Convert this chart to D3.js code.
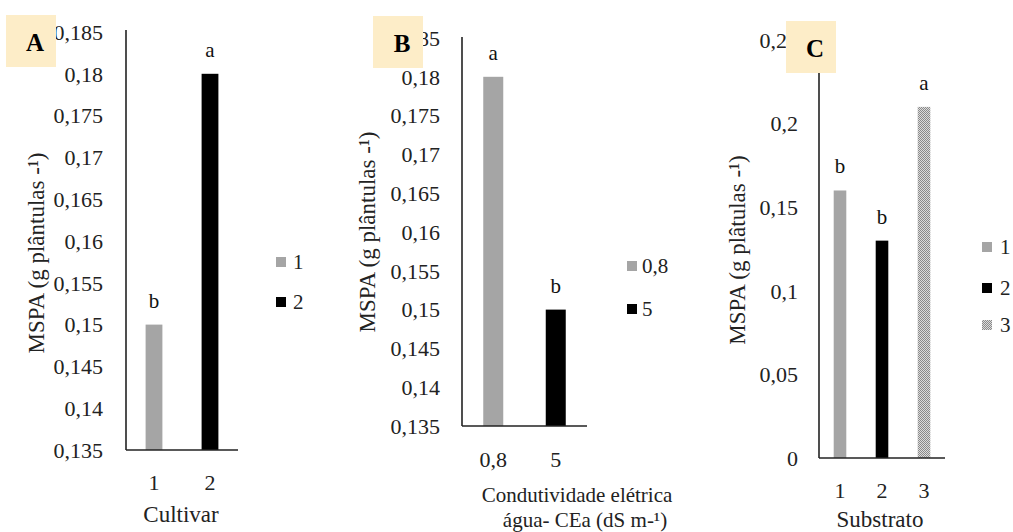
<!DOCTYPE html>
<html>
<head>
<meta charset="utf-8">
<script src="https://cdn.jsdelivr.net/npm/d3@7"></script>
<style>
  body { margin: 0; background: #fff; }
  svg { display: block; font-family: "Liberation Serif", "Times New Roman", serif; }
</style>
</head>
<body>
<svg id="chart" width="1013" height="532"></svg>
<script>
// --- data ---
const cultivarCats = ["1", "2"];
const cultivarVals = [0.15, 0.18];
const cultivarLetters = ["b", "a"];

const ceaCats = ["0,8", "5"];
const ceaVals = [0.18, 0.15];
const ceaLetters = ["a", "b"];

const substratoCats = ["1", "2", "3"];
const substratoVals = [0.16, 0.13, 0.21];
const substratoLetters = ["b", "b", "a"];

const ticksAB = [0.135, 0.14, 0.145, 0.15, 0.155, 0.16, 0.165, 0.17, 0.175, 0.18, 0.185];
const ticksC = [0, 0.05, 0.1, 0.15, 0.2, 0.25];

const barFills = ["#a5a5a5", "#000000", "url(#dots)"];

const ptBR = d3.formatLocale({ decimal: ",", thousands: ".", grouping: [3], currency: ["", ""] });
const fmt = ptBR.format("");

const svg = d3.select("#chart");

// checker pattern for the third substrate
const pat = svg.append("defs").append("pattern")
    .attr("id", "dots")
    .attr("width", 2).attr("height", 2)
    .attr("patternUnits", "userSpaceOnUse");
pat.append("rect").attr("width", 2).attr("height", 2).attr("fill", "#dcdcdc");
pat.append("rect").attr("width", 1).attr("height", 1).attr("fill", "#8a8a8a");
pat.append("rect").attr("x", 1).attr("y", 1).attr("width", 1).attr("height", 1).attr("fill", "#8a8a8a");

function drawPanel(p) {
    const x = d3.scaleBand()
        .domain(p.cats)
        .range([p.x0, p.x1])
        .paddingInner(p.pad)
        .paddingOuter(p.pad / 2);
    const y = d3.scaleLinear().domain(p.domain).range([p.y0, p.y1]);

    const g = svg.append("g");

    // tick labels (no tick marks in the original)
    g.append("g")
        .selectAll("text")
        .data(p.ticks)
        .join("text")
        .attr("x", p.x0 - p.labelGap)
        .attr("y", d => y(d))
        .attr("dy", "0.35em")
        .attr("text-anchor", "end")
        .attr("font-size", 22)
        .attr("fill", "#222")
        .text(d => fmt(d));

    // bars
    g.append("g")
        .selectAll("rect")
        .data(p.vals)
        .join("rect")
        .attr("x", (d, i) => x(p.cats[i]))
        .attr("width", x.bandwidth())
        .attr("y", d => y(d))
        .attr("height", d => y(p.domain[0]) - y(d))
        .attr("fill", (d, i) => barFills[i]);

    // significance letters
    g.append("g")
        .selectAll("text")
        .data(p.vals)
        .join("text")
        .attr("x", (d, i) => x(p.cats[i]) + x.bandwidth() / 2)
        .attr("y", d => y(d) - 17)
        .attr("text-anchor", "middle")
        .attr("font-size", 21)
        .attr("fill", "#111")
        .text((d, i) => p.letters[i]);

    // axis lines
    g.append("line")
        .attr("x1", p.x0).attr("x2", p.x0)
        .attr("y1", p.axisTop).attr("y2", p.y0)
        .attr("stroke", "#222").attr("stroke-width", 1.6);
    g.append("line")
        .attr("x1", p.x0).attr("x2", p.x1)
        .attr("y1", p.y0).attr("y2", p.y0)
        .attr("stroke", "#222").attr("stroke-width", 1.6);

    // category labels
    g.append("g")
        .selectAll("text")
        .data(p.cats)
        .join("text")
        .attr("x", d => x(d) + x.bandwidth() / 2)
        .attr("y", p.y0 + p.catGap)
        .attr("text-anchor", "middle")
        .attr("font-size", 22)
        .attr("fill", "#222")
        .text(d => d);

    // x title (one or two lines)
    p.xTitle.forEach(t => {
        g.append("text")
            .attr("x", t.cx)
            .attr("y", t.y)
            .attr("text-anchor", "middle")
            .attr("font-size", t.size || 23)
            .attr("fill", "#222")
            .text(t.text);
    });

    // y title
    g.append("text")
        .attr("transform", `translate(${p.yTitleX},${p.yTitleY}) rotate(-90)`)
        .attr("text-anchor", "middle")
        .attr("font-size", 23)
        .attr("fill", "#222")
        .text(p.yTitle);

    // legend
    const leg = g.append("g")
        .selectAll("g")
        .data(p.cats)
        .join("g")
        .attr("transform", (d, i) => `translate(${p.legX},${p.legY[i]})`);
    leg.append("rect")
        .attr("x", 0).attr("y", -5)
        .attr("width", 10).attr("height", 10)
        .attr("fill", (d, i) => barFills[i]);
    leg.append("text")
        .attr("x", p.legTextGap)
        .attr("dy", "0.35em")
        .attr("font-size", 21)
        .attr("fill", "#222")
        .text(d => d);

    // panel letter box
    g.append("rect")
        .attr("x", p.box[0]).attr("y", p.box[1])
        .attr("width", 50).attr("height", 52)
        .attr("fill", "#fdedc8");
    g.append("text")
        .attr("x", p.box[0] + 29)
        .attr("y", p.box[1] + 27)
        .attr("dy", "0.35em")
        .attr("text-anchor", "middle")
        .attr("font-size", 25)
        .attr("font-weight", "bold")
        .attr("fill", "#000")
        .text(p.letter);
}

drawPanel({
    cats: cultivarCats, vals: cultivarVals, letters: cultivarLetters,
    ticks: ticksAB, domain: [0.135, 0.185],
    x0: 126, x1: 238, pad: 0.7, y0: 450, y1: 32, axisTop: 30,
    labelGap: 23, catGap: 40,
    xTitle: [{ text: "Cultivar", cx: 181, y: 522 }],
    yTitle: "MSPA (g plântulas -¹)", yTitleX: 44, yTitleY: 253,
    legX: 276, legY: [262, 302], legTextGap: 17,
    box: [6, 15], letter: "A"
});

drawPanel({
    cats: ceaCats, vals: ceaVals, letters: ceaLetters,
    ticks: ticksAB, domain: [0.135, 0.185],
    x0: 462, x1: 587, pad: 0.68, y0: 426, y1: 38, axisTop: 37,
    labelGap: 22, catGap: 41,
    xTitle: [{ text: "Condutividade elétrica", cx: 577, y: 502, size: 21 },
             { text: "água- CEa (dS m-¹)", cx: 585, y: 527, size: 21 }],
    yTitle: "MSPA (g plântulas -¹)", yTitleX: 375, yTitleY: 232,
    legX: 627, legY: [266, 309], legTextGap: 15,
    box: [373, 16], letter: "B"
});

drawPanel({
    cats: substratoCats, vals: substratoVals, letters: substratoLetters,
    ticks: ticksC, domain: [0, 0.25],
    x0: 819, x1: 945, pad: 0.7, y0: 458, y1: 40, axisTop: 40,
    labelGap: 21, catGap: 40,
    xTitle: [{ text: "Substrato", cx: 880, y: 527 }],
    yTitle: "MSPA (g plâtulas -¹)", yTitleX: 745, yTitleY: 250,
    legX: 982, legY: [247, 288, 325], legTextGap: 18,
    box: [786, 21], letter: "C"
});
</script>
</body>
</html>
